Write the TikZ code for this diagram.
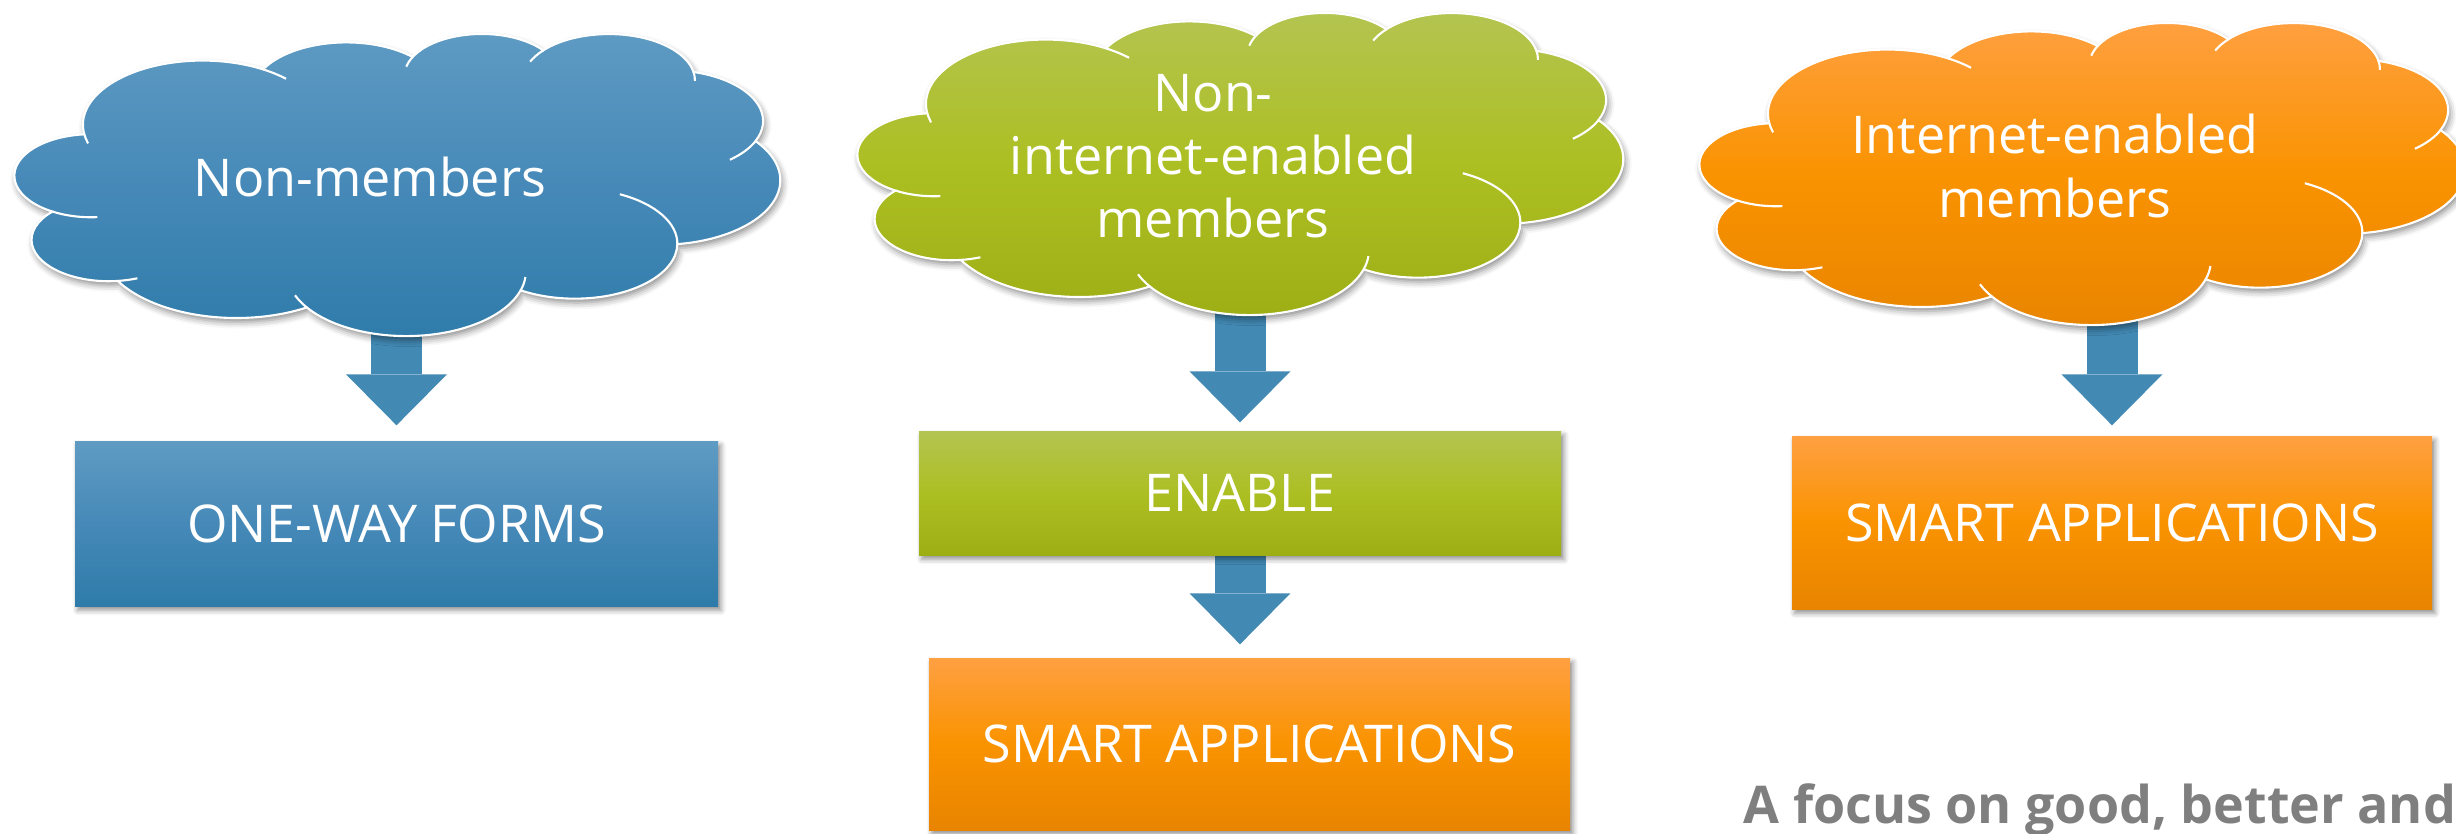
\documentclass[tikz,border=0pt]{standalone}
\usepackage{xcolor}
\usepackage{fontspec}
\setmainfont{Open Sans}
\usepackage{tikz}
\usetikzlibrary{arrows.meta,shadows.blur}

\definecolor{arrowblue}{HTML}{4289B4}
\definecolor{bluetop}{HTML}{5F9BC3}
\definecolor{bluemid}{HTML}{4689B8}
\definecolor{bluebot}{HTML}{2E7BA9}
\definecolor{greentop}{HTML}{B4C452}
\definecolor{greenmid}{HTML}{ACBF22}
\definecolor{greenbot}{HTML}{9DAE15}
\definecolor{orangetop}{HTML}{FFA042}
\definecolor{orangemid}{HTML}{FA9300}
\definecolor{orangebot}{HTML}{E88400}
\definecolor{notegray}{HTML}{7F7F7F}

\newcommand{\labelfont}{\fontsize{14.8pt}{18pt}\selectfont}

\pgfdeclarelayer{background}
\pgfsetlayers{background,main}

\tikzset{
        cloud outline/.style={insert path={(3.900,-14.370)
                arc[start angle=-172.25, delta angle=-128.12, x radius=6.753, y radius=9.190]
                arc[start angle=152.03, delta angle=-106.57, x radius=5.333, y radius=7.267]
                arc[start angle=153.49, delta angle=-116.17, x radius=4.365, y radius=5.945]
                arc[start angle=139.70, delta angle=-129.49, x radius=4.857, y radius=6.595]
                arc[start angle=74.77, delta angle=-97.98, x radius=5.333, y radius=7.273]
                arc[start angle=37.52, delta angle=-119.38, x radius=6.775, y radius=9.220]
                arc[start angle=-0.46, delta angle=-121.52, x radius=5.785, y radius=7.867]
                arc[start angle=-16.84, delta angle=-129.39, x radius=6.752, y radius=9.215]
                arc[start angle=-58.98, delta angle=-91.22, x radius=7.720, y radius=10.543]
                arc[start angle=-83.31, delta angle=-139.81, x radius=4.360, y radius=5.918]
                arc[start angle=-120.36, delta angle=-143.75, x radius=4.345, y radius=5.945]
                -- cycle}},
        % short inner lines where the puffs overlap
        cloud creases/.style={insert path={
                (4.646,-26.344) arc[start angle=-85.55, end angle=-120.36, x radius=4.345, y radius=5.945]
                (6.911,-35.088) arc[start angle=-68.24, end angle=-83.31, x radius=4.360, y radius=5.918]
                (16.481,-39.264) arc[start angle=-146.23, end angle=-158.47, x radius=6.752, y radius=9.215]
                (28.824,-34.906) arc[start angle=-4.74, end angle=-16.84, x radius=6.752, y radius=9.215]
                (34.154,-23.068) arc[start angle=64.03, end angle=-0.46, x radius=5.785, y radius=7.867]
                (41.820,-15.461) arc[start angle=-23.21, end angle=-49.64, x radius=5.333, y radius=7.273]
                (38.319,-5.578) arc[start angle=10.21, end angle=-0.82, x radius=4.857, y radius=6.595]
                (29.092,-4.095) arc[start angle=156.29, end angle=139.70, x radius=4.857, y radius=6.595]
                (22.099,-4.822) arc[start angle=167.73, end angle=153.49, x radius=4.365, y radius=5.945]
                (14.007,-5.203) arc[start angle=59.63, end angle=45.72, x radius=6.753, y radius=9.190]
                (4.127,-15.789) arc[start angle=-163.19, end angle=-172.25, x radius=6.753, y radius=9.190]}},
        cloudtext/.style={text=white, font=\labelfont, align=center, inner sep=0pt},
        panel/.style={rectangle, inner sep=0pt, text=white, font=\labelfont,
                blur shadow={shadow xshift=0.8pt, shadow yshift=-1.2pt, shadow blur radius=1.5pt, shadow opacity=45}},
        bluepanel/.style={panel, top color=bluetop, bottom color=bluebot, middle color=bluemid},
        greenpanel/.style={panel, top color=greentop, bottom color=greenbot, middle color=greenmid},
        orangepanel/.style={panel, top color=orangetop, bottom color=orangebot, middle color=orangemid},
        bigarrow/.style={draw=arrowblue, line width=5.1mm,
                -{Triangle[length=5.1mm, width=10.1mm, line width=0pt]}},
        notetext/.style={text=notegray, font=\labelfont\bfseries, inner sep=0pt}
}

% #1 = centre of the cloud label, #2 = colour family
\newcommand{\drawcloud}[2]{
        \begin{scope}[shift={(#1)}, xshift=-3.55cm, yshift=1.44cm, x=0.17708cm, y=0.069907cm]
                \fill[blur shadow={shadow xshift=0.6pt, shadow yshift=-1.2pt, shadow blur radius=1.8pt, shadow opacity=45},
                        top color=#2top, bottom color=#2bot, middle color=#2mid,
                        draw=white, line width=0.6pt, cloud outline];
                \draw[white, line width=0.6pt, cloud creases];
        \end{scope}}

\begin{document}
\begin{tikzpicture}
        \useasboundingbox (0,0) rectangle (24.56,8.33);

        \coordinate (nmc) at (3.70,6.56);
        \coordinate (niec) at (12.13,6.77);
        \coordinate (iec) at (20.55,6.67);

        \drawcloud{nmc}{blue}
        \drawcloud{niec}{green}
        \drawcloud{iec}{orange}

        \node[cloudtext] (nm) at (nmc) {Non-members};
        \node[cloudtext] (nie) at (niec) {Non-\\internet-enabled\\members};
        \node[cloudtext] (ie) at (iec) {Internet-enabled\\members};

        % boxes
        \node[bluepanel, minimum width=6.43cm, minimum height=1.65cm] (owf) at (3.965,3.095) {ONE-WAY FORMS};
        \node[greenpanel, minimum width=6.42cm, minimum height=1.24cm] (en) at (12.40,3.40) {ENABLE};
        \node[orangepanel, minimum width=6.41cm, minimum height=1.72cm] (sa2) at (12.495,0.89) {SMART APPLICATIONS};
        \node[orangepanel, minimum width=6.40cm, minimum height=1.73cm] (sa3) at (21.12,3.105) {SMART APPLICATIONS};

        \node[notetext, anchor=base west] (focus) at (17.43,0.10) {A focus on good, better and};

        % arrows go underneath everything else
        \coordinate (tip3) at ([yshift=1.3mm]sa2.north);
        \begin{pgfonlayer}{background}
                \draw[bigarrow] (nm.south -| owf.north) -- ([yshift=1.5mm]owf.north);
                \draw[bigarrow] (nie.south -| en.north) -- ([yshift=0.8mm]en.north);
                \draw[bigarrow] (en.south) -- (en.south |- tip3);
                \draw[bigarrow] (ie.south -| sa3.north) -- ([yshift=1mm]sa3.north);
        \end{pgfonlayer}
\end{tikzpicture}
\end{document}
